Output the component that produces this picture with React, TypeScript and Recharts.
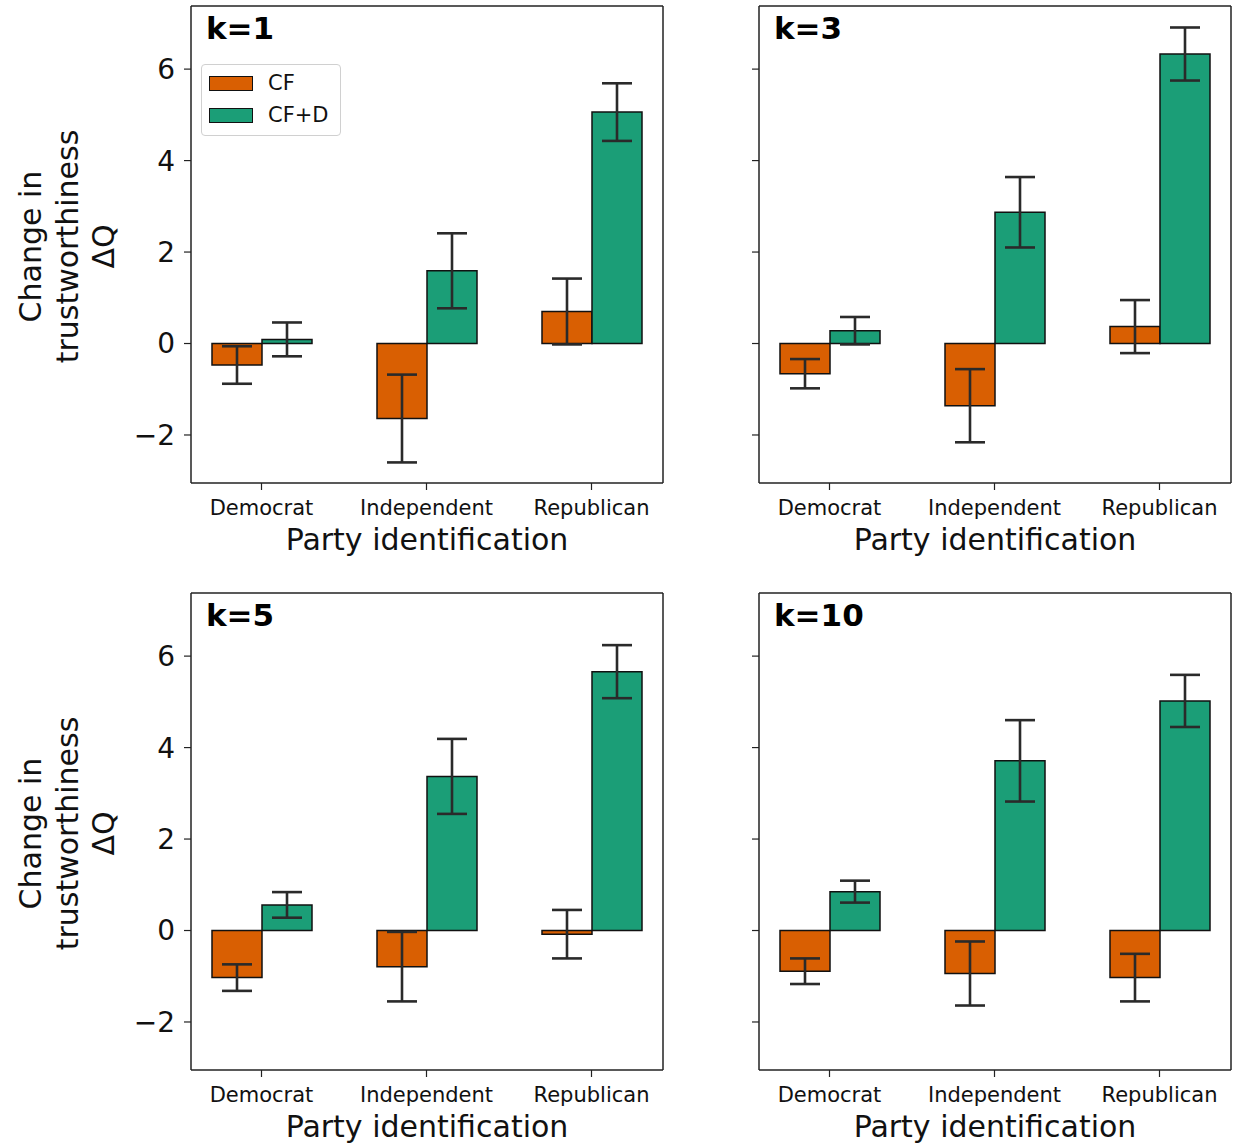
import { Bar, BarChart, ErrorBar, Legend, XAxis, YAxis } from 'recharts'

const parties = ['Democrat', 'Independent', 'Republican']
const yTicks = [-2, 0, 2, 4, 6]

const cfK1 = [-0.47, -1.64, 0.7]
const cfErrK1 = [0.41, 0.96, 0.72]
const cfdK1 = [0.09, 1.59, 5.06]
const cfdErrK1 = [0.37, 0.82, 0.63]

const cfK3 = [-0.66, -1.36, 0.37]
const cfErrK3 = [0.32, 0.8, 0.58]
const cfdK3 = [0.28, 2.87, 6.33]
const cfdErrK3 = [0.3, 0.77, 0.58]

const cfK5 = [-1.03, -0.79, -0.08]
const cfErrK5 = [0.29, 0.76, 0.53]
const cfdK5 = [0.56, 3.37, 5.66]
const cfdErrK5 = [0.28, 0.82, 0.58]

const cfK10 = [-0.89, -0.94, -1.03]
const cfErrK10 = [0.28, 0.7, 0.52]
const cfdK10 = [0.85, 3.71, 5.02]
const cfdErrK10 = [0.24, 0.89, 0.57]

const ORANGE = '#d95f02'
const GREEN = '#1b9e77'
const FONT = '"DejaVu Sans", Verdana, sans-serif'
const SPINE = '#222'

function LegendBox() {
  const items: [string, string][] = [['CF', ORANGE], ['CF+D', GREEN]]
  return (
    <div
      style={{
        width: 138,
        boxSizing: 'content-box',
        border: '1px solid #d0d0d0',
        borderRadius: 4,
        background: 'rgba(255,255,255,0.85)',
        padding: '2px 0 4px 0',
        fontFamily: FONT,
        fontSize: 21,
        color: '#111',
      }}
    >
      {items.map(([name, color]) => (
        <div key={name} style={{ display: 'flex', alignItems: 'center', height: 32 }}>
          <span
            style={{
              display: 'inline-block',
              width: 42,
              height: 13,
              marginLeft: 7,
              marginRight: 15,
              background: color,
              border: '1.5px solid #111',
            }}
          />
          <span>{name}</span>
        </div>
      ))}
    </div>
  )
}

type PanelProps = {
  title: string
  cf: number[]
  cfErr: number[]
  cfd: number[]
  cfdErr: number[]
  left: number
  top: number
  firstCol: boolean
  showLegend?: boolean
}

function Panel({ title, cf, cfErr, cfd, cfdErr, left, top, firstCol, showLegend }: PanelProps) {
  const data = parties.map((party, i) => ({
    party,
    cf: cf[i],
    cfErr: cfErr[i],
    cfd: cfd[i],
    cfdErr: cfdErr[i],
  }))
  const plotLeft = firstCol ? 191 : 79
  const width = plotLeft + 472 + 17
  const height = 560
  const plotTop = 6
  const plotH = 477
  const cy = plotTop + plotH / 2 + 2
  return (
    <div style={{ position: 'absolute', left, top }}>
      <BarChart
        width={width}
        height={height}
        data={data}
        margin={{ top: plotTop - 1, right: 16, bottom: height - plotTop - plotH - 70, left: plotLeft - 60 }}
        barCategoryGap="20%"
        barGap={0}
      >
        <XAxis
          dataKey="party"
          padding={{ left: -12, right: -11 }}
          tickSize={7}
          tickMargin={10}
          height={70}
          axisLine={{ stroke: SPINE, strokeWidth: 1.5 }}
          tickLine={{ stroke: SPINE, strokeWidth: 1.2 }}
          tick={{ fill: '#111', fontSize: 21, fontFamily: FONT }}
          label={{
            value: 'Party identification',
            position: 'insideBottom',
            offset: 3,
            fontSize: 30,
            fill: '#111',
            fontFamily: FONT,
          }}
        />
        <XAxis
          xAxisId="top"
          dataKey="party"
          orientation="top"
          height={1}
          tick={false}
          tickLine={false}
          axisLine={{ stroke: SPINE, strokeWidth: 1.5 }}
        />
        <YAxis
          type="number"
          domain={[-3.05, 7.38]}
          ticks={yTicks}
          allowDataOverflow
          width={60}
          tickSize={7}
          tickMargin={9}
          axisLine={{ stroke: SPINE, strokeWidth: 1.5 }}
          tickLine={{ stroke: SPINE, strokeWidth: 1.2 }}
          tickFormatter={(v: number) => (firstCol ? (v < 0 ? '\u2212' + Math.abs(v) : String(v)) : '')}
          tick={{ fill: '#111', fontSize: 28, fontFamily: FONT }}
        />
        <YAxis
          yAxisId="box"
          orientation="right"
          type="number"
          domain={[-3.05, 7.38]}
          width={1}
          tick={false}
          tickLine={false}
          axisLine={{ stroke: SPINE, strokeWidth: 1.5 }}
        />
        <Bar dataKey="cf" name="CF" fill={ORANGE} stroke="#111" strokeWidth={1.5} isAnimationActive={false}>
          <ErrorBar dataKey="cfErr" direction="y" width={15} stroke="#2a2a2a" strokeWidth={2.6} isAnimationActive={false} />
        </Bar>
        <Bar dataKey="cfd" name="CF+D" fill={GREEN} stroke="#111" strokeWidth={1.5} isAnimationActive={false}>
          <ErrorBar dataKey="cfdErr" direction="y" width={15} stroke="#2a2a2a" strokeWidth={2.6} isAnimationActive={false} />
        </Bar>
        {showLegend && (
          <Legend
            layout="vertical"
            align="center"
            verticalAlign="middle"
            content={() => <LegendBox />}
            wrapperStyle={{ left: plotLeft + 10, top: 64, width: 'auto', height: 'auto' }}
          />
        )}
        <text x={plotLeft + 15} y={plotTop + 33} fontSize={31} fontWeight="bold" fontFamily={FONT} fill="#000">
          {title}
        </text>
        {firstCol &&
          ['Change in', 'trustworthiness', '\u0394Q'].map((line, i) => {
            const x = 41 + i * 36.5
            return (
              <text
                key={line}
                x={x}
                y={cy}
                transform={`rotate(-90 ${x} ${cy})`}
                textAnchor="middle"
                fontSize={30}
                fontFamily={FONT}
                fill="#111"
              >
                {line}
              </text>
            )
          })}
      </BarChart>
    </div>
  )
}

export default function App() {
  return (
    <div style={{ position: 'absolute', left: 0, top: 0, width: 1238, height: 1147, background: '#fff' }}>
      <Panel title="k=1" cf={cfK1} cfErr={cfErrK1} cfd={cfdK1} cfdErr={cfdErrK1} left={0} top={0} firstCol showLegend />
      <Panel title="k=3" cf={cfK3} cfErr={cfErrK3} cfd={cfdK3} cfdErr={cfdErrK3} left={680} top={0} firstCol={false} />
      <Panel title="k=5" cf={cfK5} cfErr={cfErrK5} cfd={cfdK5} cfdErr={cfdErrK5} left={0} top={587} firstCol />
      <Panel title="k=10" cf={cfK10} cfErr={cfErrK10} cfd={cfdK10} cfdErr={cfdErrK10} left={680} top={587} firstCol={false} />
    </div>
  )
}
